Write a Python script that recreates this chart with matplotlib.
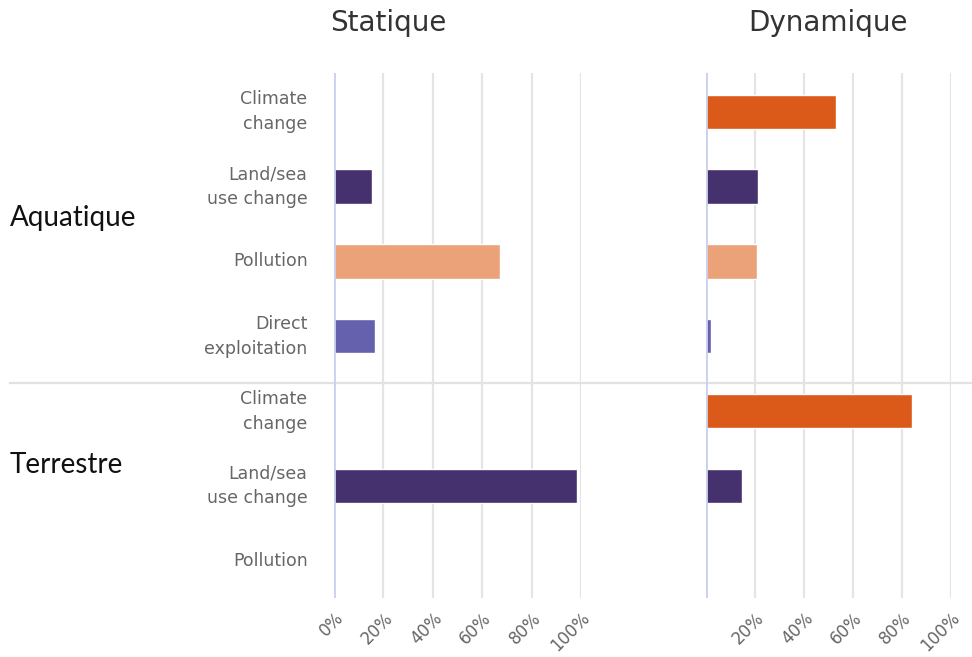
import matplotlib
matplotlib.use("Agg")
import matplotlib.pyplot as plt
from matplotlib.lines import Line2D

# rows, top to bottom
categories = ["Climate\nchange", "Land/sea\nuse change", "Pollution", "Direct\nexploitation",
              "Climate\nchange", "Land/sea\nuse change", "Pollution"]
drivers = ["climate", "land", "pollution", "direct", "climate", "land", "pollution"]
groups = ["Aquatique", "Terrestre"]
static_vals = [0, 15.3, 67.2, 16.5, 0, 98.3, 0]
dynamic_vals = [52.9, 21.4, 21.0, 2.2, 84.0, 14.6, 0]
xticks = [0, 20, 40, 60, 80, 100]

colors = {"climate": "#db5a19", "land": "#45316d", "pollution": "#eca279", "direct": "#6661ad"}
label_gray = "#666666"


def draw_panel(ax, values, tick_values, show_labels):
    ypos = list(range(len(values)))
    ax.patch.set_alpha(0)
    ax.barh(ypos, values, height=0.46, color=[colors[d] for d in drivers],
            edgecolor="white", linewidth=1.0, zorder=3)
    ax.set_xlim(0, 100)
    ax.set_ylim(len(values) - 0.5, -0.52)
    ax.set_xticks(xticks)
    ax.set_xticklabels([f"{t}%" if t in tick_values else "" for t in xticks],
                       rotation=45, ha="right", rotation_mode="anchor",
                       color=label_gray, fontsize=12, family="DejaVu Sans")
    ax.tick_params(axis="x", length=0, pad=8)
    ax.set_yticks(ypos)
    if show_labels:
        ax.set_yticklabels(categories, color=label_gray, fontsize=12.5,
                           family="DejaVu Sans", linespacing=1.5, ha="right", va="center")
    else:
        ax.set_yticklabels([])
    ax.tick_params(axis="y", length=0, pad=19)
    ax.grid(axis="x", color="#e4e4e4", linewidth=1.6, zorder=0)
    ax.grid(axis="y", visible=False)
    for s in ax.spines.values():
        s.set_visible(False)
    ax.axvline(0, color="#c9d1ef", linewidth=2, zorder=4)


fig = plt.figure(figsize=(9.72, 6.57), dpi=100)

# separator between the two groups
fig.add_artist(Line2D([0.010, 1.0], [1 - 383 / 657, 1 - 383 / 657],
                      color="#e2e2e6", linewidth=1.6, zorder=0))

ax1 = fig.add_axes([0.3436, 0.0898, 0.2541, 0.7991])
ax2 = fig.add_axes([0.7263, 0.0898, 0.2521, 0.7991])

draw_panel(ax1, static_vals, xticks, True)
draw_panel(ax2, dynamic_vals, xticks[1:], False)

fig.text(0.399, 0.965, "Statique", ha="center", va="center", fontsize=20,
         color="#333333", family="DejaVu Sans")
fig.text(0.852, 0.965, "Dynamique", ha="center", va="center", fontsize=20,
         color="#333333", family="DejaVu Sans")

fig.text(0.010, 1 - 218 / 657, groups[0], ha="left", va="center", fontsize=20,
         color="#111111", family="Lato")
fig.text(0.010, 1 - 465 / 657, groups[1], ha="left", va="center", fontsize=20,
         color="#111111", family="Lato")

fig.savefig("out.png", dpi=100, facecolor="white")
